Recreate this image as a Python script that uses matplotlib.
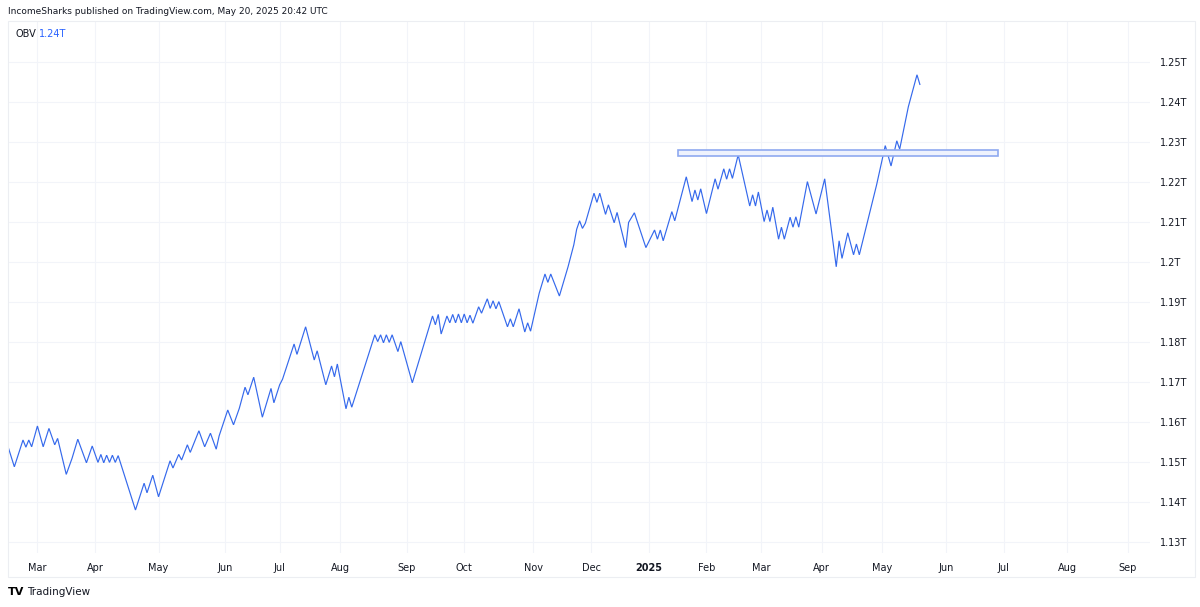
import numpy as np
import matplotlib.pyplot as plt
from matplotlib.patches import Rectangle

# OBV in trillions, vertices of the zigzag (x = bar index, trading days from mid Feb 2024)
bars = [0, 2, 5, 6, 7, 8, 10, 12, 14, 16, 17, 20, 22, 24, 27, 29, 31, 32, 33, 34,
        35, 36, 37, 38, 44, 47, 48, 50, 52, 56, 57, 59, 60, 62, 63, 66, 68, 70, 72, 73,
        76, 78, 80, 82, 83, 85, 88, 91, 92, 94, 95, 99, 100, 103, 106, 107, 110, 112, 113, 114,
        117, 118, 119, 127, 128, 129, 130, 131, 132, 133, 135, 136, 140, 147, 148, 149, 150, 152, 153, 154,
        155, 156, 157, 158, 159, 160, 161, 163, 164, 166, 167, 168, 169, 170, 173, 174, 175, 177, 179, 180,
        181, 184, 186, 187, 188, 191, 194, 196, 197, 198, 199, 200, 203, 204, 205, 207, 208, 210, 211, 214,
        215, 217, 221, 224, 225, 226, 227, 230, 231, 235, 237, 238, 239, 240, 242, 245, 246, 248, 249, 250,
        251, 253, 257, 258, 259, 260, 262, 263, 264, 265, 267, 268, 269, 271, 272, 273, 274, 277, 280, 283,
        287, 288, 289, 291, 293, 294, 295, 299, 301, 304, 306, 308, 309, 312, 315, 316]
obv = [1.1534, 1.1488, 1.1555, 1.1537, 1.1555, 1.1538, 1.1590, 1.1538, 1.1584, 1.1543, 1.1559, 1.1469, 1.1509, 1.1557, 1.1498, 1.1540, 1.1499, 1.1519, 1.1498, 1.1517,
       1.1499, 1.1517, 1.1499, 1.1516, 1.1380, 1.1447, 1.1423, 1.1467, 1.1413, 1.1503, 1.1485, 1.1519, 1.1505, 1.1543, 1.1524, 1.1578, 1.1538, 1.1572, 1.1532, 1.1565,
       1.1630, 1.1593, 1.1634, 1.1687, 1.1668, 1.1712, 1.1612, 1.1684, 1.1648, 1.1693, 1.1707, 1.1795, 1.1769, 1.1838, 1.1755, 1.1778, 1.1693, 1.1740, 1.1713, 1.1745,
       1.1633, 1.1662, 1.1637, 1.1818, 1.1801, 1.1818, 1.1798, 1.1818, 1.1799, 1.1818, 1.1776, 1.1801, 1.1698, 1.1865, 1.1843, 1.1869, 1.1820, 1.1865, 1.1848, 1.1869,
       1.1848, 1.1870, 1.1848, 1.1870, 1.1848, 1.1867, 1.1847, 1.1888, 1.1872, 1.1908, 1.1884, 1.1903, 1.1883, 1.1901, 1.1838, 1.1858, 1.1838, 1.1883, 1.1825, 1.1848,
       1.1827, 1.1922, 1.1970, 1.1949, 1.1970, 1.1915, 1.1988, 1.2043, 1.2082, 1.2103, 1.2084, 1.2097, 1.2172, 1.2149, 1.2172, 1.2119, 1.2143, 1.2098, 1.2124, 1.2036,
       1.2099, 1.2123, 1.2036, 1.2080, 1.2057, 1.2080, 1.2053, 1.2126, 1.2103, 1.2213, 1.2151, 1.2180, 1.2155, 1.2183, 1.2121, 1.2208, 1.2182, 1.2233, 1.2207, 1.2233,
       1.2209, 1.2268, 1.2140, 1.2168, 1.2140, 1.2175, 1.2101, 1.2130, 1.2101, 1.2137, 1.2057, 1.2087, 1.2057, 1.2112, 1.2087, 1.2113, 1.2087, 1.2201, 1.2120, 1.2208,
       1.1988, 1.2053, 1.2009, 1.2073, 1.2018, 1.2045, 1.2018, 1.2134, 1.2193, 1.2291, 1.2240, 1.2303, 1.2282, 1.2388, 1.2468, 1.2444]
assert len(bars) == len(obv)

month_bars = [10, 30, 52, 75, 94, 115, 138, 158, 182, 202, 222, 242, 261, 282, 303, 325, 345, 367, 388]
month_labels = ['Mar', 'Apr', 'May', 'Jun', 'Jul', 'Aug', 'Sep', 'Oct', 'Nov', 'Dec',
                '2025', 'Feb', 'Mar', 'Apr', 'May', 'Jun', 'Jul', 'Aug', 'Sep']
price_ticks = [1.13, 1.14, 1.15, 1.16, 1.17, 1.18, 1.19, 1.20, 1.21, 1.22, 1.23, 1.24, 1.25]
price_labels = ['1.13T', '1.14T', '1.15T', '1.16T', '1.17T', '1.18T', '1.19T', '1.2T',
                '1.21T', '1.22T', '1.23T', '1.24T', '1.25T']

# resistance box
box_start, box_end = 232, 343
box_low, box_high = 1.2266, 1.2279

W, H = 1200, 607
text_col = '#131722'
line_col = '#3569ec'
grid_col = '#f2f4f9'

fig = plt.figure(figsize=(W / 100, H / 100), dpi=100)
ax = fig.add_axes([8 / W, 1 - 553 / H, (1150 - 8) / W, (553 - 21) / H])

ax.plot(bars, obv, color=line_col, lw=0.85, solid_joinstyle='miter')
ax.add_patch(Rectangle((box_start, box_low), box_end - box_start, box_high - box_low,
                       facecolor='#eef2fd', edgecolor='#8fa9f0', lw=1.2, zorder=3))

ax.set_xlim(-0.2, 395.8)
ax.set_ylim(1.12725, 1.26025)
ax.set_xticks(month_bars)
ax.set_xticklabels(month_labels)
ax.set_yticks(price_ticks)
ax.set_yticklabels(price_labels)
ax.yaxis.tick_right()
ax.tick_params(axis='both', length=0, colors=text_col, labelsize=7)
ax.tick_params(axis='y', pad=7)
ax.tick_params(axis='x', pad=7)
for lbl in ax.get_xticklabels():
    if lbl.get_text() == '2025':
        lbl.set_fontweight('bold')
ax.grid(True, color=grid_col, lw=0.8)
ax.set_axisbelow(True)
for s in ax.spines.values():
    s.set_visible(False)

# outer frame of the chart
fig.patches.append(Rectangle((8 / W, 1 - 577 / H), (1195 - 8) / W, (577 - 21) / H,
                             transform=fig.transFigure, fill=False, edgecolor='#eceef2', lw=0.8))

fig.text(8 / W, 1 - 12 / H, 'IncomeSharks published on TradingView.com, May 20, 2025 20:42 UTC',
         fontsize=6.5, color=text_col, va='center', ha='left')
fig.text(15 / W, 1 - 34 / H, 'OBV', fontsize=7, color=text_col, va='center', ha='left')
fig.text(39 / W, 1 - 34 / H, '%.2fT' % obv[-1], fontsize=7, color='#2962ff', va='center', ha='left')

fig.text(8 / W, 1 - 592 / H, 'TV', fontsize=8, fontweight='bold', color='#000000', va='center', ha='left')
fig.text(27 / W, 1 - 592 / H, 'TradingView', fontsize=7.5, color=text_col, va='center', ha='left')

fig.savefig('out.png', dpi=100)
